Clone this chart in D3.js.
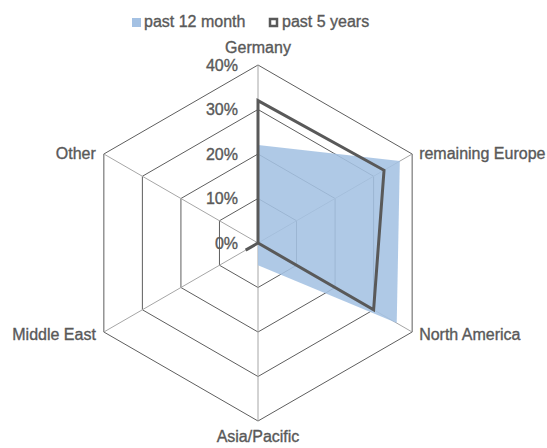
<!DOCTYPE html>
<html>
<head>
<meta charset="utf-8">
<script src="https://cdn.jsdelivr.net/npm/d3@7"></script>
<style>
  body { margin: 0; background: #fff; }
  svg { display: block; font-family: "Liberation Sans", Arial, sans-serif; }
  svg text { stroke: #595959; stroke-width: 0.35px; }
</style>
</head>
<body>
<div class="chart"></div>
<script>
const categories = ['Germany', 'remaining Europe', 'North America', 'Asia/Pacific', 'Middle East', 'Other'];
const past12Month = [22, 36.8, 36, 5, 0, 0];
const past5Years = [32, 32.7, 30, 0, 3.2, 0];
const ticks = [0, 10, 20, 30, 40];
const seriesNames = ['past 12 month', 'past 5 years'];

const width = 547;
const height = 448;
const cx = 258;
const cy = 243;
const textColor = '#595959';

const svg = d3.select('.chart')
  .append('svg')
  .attr('width', width)
  .attr('height', height);

const r = d3.scaleLinear().domain([0, 40]).range([0, 178]);
const angle = d3.scalePoint()
  .domain(categories)
  .range([0, 2 * Math.PI * (categories.length - 1) / categories.length]);

const point = (cat, v) => {
  const a = angle(cat);
  return [cx + r(v) * Math.sin(a), cy - r(v) * Math.cos(a)];
};

const g = svg.append('g');

// hexagon grid
const closedLine = d3.line();
ticks.filter(t => t > 0).forEach(t => {
  g.append('path')
    .attr('d', closedLine(categories.map(c => point(c, t))) + 'Z')
    .attr('fill', 'none')
    .attr('stroke', '#5e5e5e')
    .attr('stroke-width', 1);
});

// spokes
g.selectAll('.spoke')
  .data(categories)
  .join('line')
  .attr('class', 'spoke')
  .attr('x1', cx).attr('y1', cy)
  .attr('x2', d => point(d, 40)[0])
  .attr('y2', d => point(d, 40)[1])
  .attr('stroke', '#a6a6a6')
  .attr('stroke-width', 1);

// past 12 month area
g.append('path')
  .attr('d', closedLine(categories.map((c, i) => point(c, past12Month[i]))) + 'Z')
  .attr('fill', '#a4c1e3')
  .attr('fill-opacity', 0.88);

// past 5 years line
g.append('path')
  .attr('d', closedLine(categories.map((c, i) => point(c, past5Years[i]))) + 'Z')
  .attr('fill', 'none')
  .attr('stroke', '#595959')
  .attr('stroke-width', 3)
  .attr('stroke-linejoin', 'miter');

// tick labels
g.selectAll('.tick')
  .data(ticks)
  .join('text')
  .attr('class', 'tick')
  .attr('x', 238)
  .attr('y', d => cy - r(d))
  .attr('dy', '0.35em')
  .attr('text-anchor', 'end')
  .attr('font-size', 16)
  .attr('fill', textColor)
  .text(d => d + '%');

// category labels
g.selectAll('.cat')
  .data(categories)
  .join('text')
  .attr('class', 'cat')
  .attr('x', d => {
    const [x] = point(d, 40);
    const s = Math.sin(angle(d));
    return x + (s > 0.1 ? 7 : s < -0.1 ? -8 : 0);
  })
  .attr('y', d => {
    const [, y] = point(d, 40);
    const c = Math.cos(angle(d));
    if (c > 0.9) return y - 12;
    if (c < -0.9) return y + 21;
    return y + (c < 0 ? 8 : 5);
  })
  .attr('text-anchor', d => {
    const s = Math.sin(angle(d));
    return s > 0.1 ? 'start' : s < -0.1 ? 'end' : 'middle';
  })
  .attr('font-size', 16)
  .attr('fill', textColor)
  .text(d => d);

// legend
const legend = svg.append('g');
legend.append('rect')
  .attr('x', 132).attr('y', 18).attr('width', 9).attr('height', 9)
  .attr('fill', '#a4c1e3');
legend.append('text')
  .attr('x', 144).attr('y', 27)
  .attr('font-size', 16).attr('fill', textColor)
  .text(seriesNames[0]);
legend.append('rect')
  .attr('x', 270).attr('y', 19).attr('width', 7).attr('height', 7)
  .attr('fill', 'none').attr('stroke', '#595959').attr('stroke-width', 2.5);
legend.append('text')
  .attr('x', 282).attr('y', 27)
  .attr('font-size', 16).attr('fill', textColor)
  .text(seriesNames[1]);
</script>
</body>
</html>
